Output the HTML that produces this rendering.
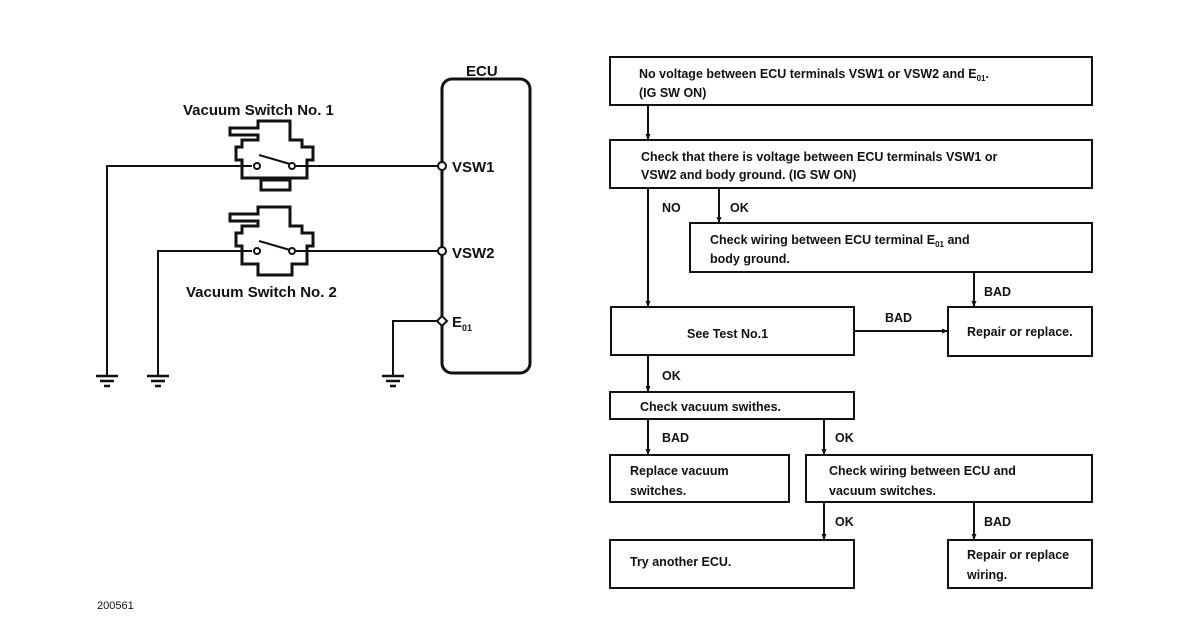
<!DOCTYPE html>
<html><head><style>
body{margin:0;background:#fff;}
svg{display:block;}
text{font-family:"Liberation Sans",sans-serif;font-weight:bold;fill:#111;}
</style></head><body>
<svg width="1180" height="634" viewBox="0 0 1180 634" xmlns="http://www.w3.org/2000/svg">
<defs><marker id="a" markerUnits="userSpaceOnUse" markerWidth="6" markerHeight="6" refX="5" refY="3" orient="auto"><path d="M0,0.5 L6,3 L0,5.5z" fill="#111"/></marker></defs>
<g stroke="#111" fill="none" stroke-width="2">
<rect x="442" y="79" width="88" height="294" rx="10" stroke-width="3"/>
<path d="M107,375 V166 H252 M296,166 H438"/>
<path d="M158,375 V251 H252 M296,251 H438"/>
<path d="M393,375 V321 H438"/>
<circle cx="442" cy="166" r="4" fill="#fff"/>
<circle cx="442" cy="251" r="4" fill="#fff"/>
<path d="M442,316 L447,321 L442,326 L437,321z" fill="#fff"/>
<g stroke-width="2.5">
<path d="M96,376 H118 M100,381 H114 M104,386 H110"/>
<path d="M147,376 H169 M151,381 H165 M155,386 H161"/>
<path d="M382,376 H404 M386,381 H400 M390,386 H396"/>
</g>
<g stroke-width="3">
<path d="M258,128 H230 V135 H258 V140 H242 V147 H236 V160 H242 V178 H307 V160 H313 V147 H302 V140 H290 V121 H258z"/>
<path d="M261,180 H290 V190 H261z"/>
</g>
<circle cx="257" cy="166" r="3" fill="#fff"/><circle cx="292" cy="166" r="3" fill="#fff"/>
<path d="M259,155 L290,164"/>
<g stroke-width="3">
<path d="M258,214 H230 V221 H258 V226 H242 V233 H236 V246 H242 V264 H258 V275 H292 V264 H307 V246 H313 V233 H302 V226 H290 V207 H258z"/>
</g>
<circle cx="257" cy="251" r="3" fill="#fff"/><circle cx="292" cy="251" r="3" fill="#fff"/>
<path d="M259,241 L290,250"/>
<rect x="610" y="57" width="482" height="48"/>
<rect x="610" y="140" width="482" height="48"/>
<rect x="690" y="223" width="402" height="49"/>
<rect x="611" y="307" width="243" height="48"/>
<rect x="948" y="307" width="144" height="49"/>
<rect x="610" y="392" width="244" height="27"/>
<rect x="610" y="455" width="179" height="47"/>
<rect x="806" y="455" width="286" height="47"/>
<rect x="610" y="540" width="244" height="48"/>
<rect x="948" y="540" width="144" height="48"/>
<g marker-end="url(#a)">
<path d="M648,105 V139"/><path d="M648,188 V306"/><path d="M719,188 V222"/>
<path d="M974,272 V306"/><path d="M854,331 H947"/><path d="M648,355 V391"/>
<path d="M648,419 V454"/><path d="M824,419 V454"/><path d="M824,502 V539"/>
<path d="M974,502 V539"/>
</g>
</g>
<g font-size="15">
<text x="466" y="76">ECU</text>
<text x="183" y="115">Vacuum Switch No. 1</text>
<text x="186" y="297">Vacuum Switch No. 2</text>
<text x="452" y="172">VSW1</text>
<text x="452" y="258">VSW2</text>
<text x="452" y="327">E<tspan font-size="9" dy="4">01</tspan></text>
</g>
<g font-size="12.5">
<text x="639" y="78">No voltage between ECU terminals VSW1 or VSW2 and E<tspan font-size="8" dy="3">01</tspan><tspan dy="-3">.</tspan></text>
<text x="639" y="97">(IG SW ON)</text>
<text x="641" y="161">Check that there is voltage between ECU terminals VSW1 or</text>
<text x="641" y="179">VSW2 and body ground. (IG SW ON)</text>
<text x="662" y="212">NO</text><text x="730" y="212">OK</text>
<text x="710" y="244">Check wiring between ECU terminal E<tspan font-size="8" dy="3">01</tspan><tspan dy="-3"> and</tspan></text>
<text x="710" y="263">body ground.</text>
<text x="984" y="296">BAD</text>
<text x="885" y="322">BAD</text>
<text x="687" y="338">See Test No.1</text>
<text x="967" y="336">Repair or replace.</text>
<text x="662" y="380">OK</text>
<text x="640" y="411">Check vacuum swithes.</text>
<text x="662" y="442">BAD</text><text x="835" y="442">OK</text>
<text x="630" y="475">Replace vacuum</text>
<text x="630" y="495">switches.</text>
<text x="829" y="475">Check wiring between ECU and</text>
<text x="829" y="495">vacuum switches.</text>
<text x="835" y="526">OK</text><text x="984" y="526">BAD</text>
<text x="630" y="566">Try another ECU.</text>
<text x="967" y="559">Repair or replace</text>
<text x="967" y="579">wiring.</text>
</g>
<text x="97" y="609" font-size="11" style="font-weight:normal">200561</text>
</svg>
</body></html>
